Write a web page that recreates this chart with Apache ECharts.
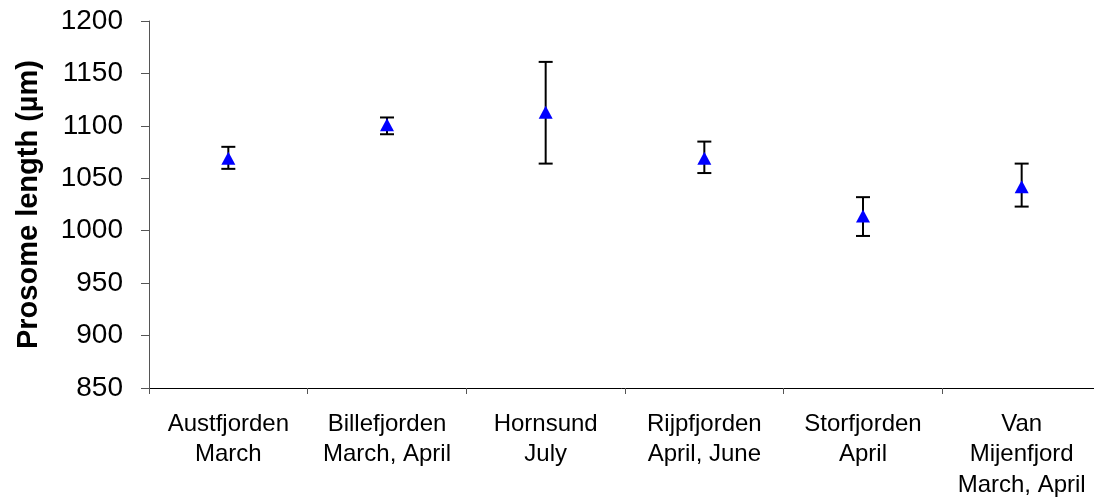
<!DOCTYPE html>
<html>
<head>
<meta charset="utf-8">
<script src="https://cdn.jsdelivr.net/npm/echarts@6/dist/echarts.min.js"></script>
<style>
html,body{margin:0;padding:0;background:#fff;}
#chart{width:1094px;height:497px;}
</style>
</head>
<body>
<div id="chart"></div>
<script>
const categories = ['Austfjorden\nMarch', 'Billefjorden\nMarch, April', 'Hornsund\nJuly', 'Rijpfjorden\nApril, June', 'Storfjorden\nApril', 'Van\nMijenfjord\nMarch, April'];
const means = [1069, 1101, 1113, 1069, 1014, 1042];
const upper = [1080, 1108, 1161, 1085, 1032, 1064];
const lower = [1059, 1092, 1064, 1055, 995, 1023];
const yTicks = {min: 850, max: 1200, interval: 50};
const yTitle = 'Prosome length (µm)';

const errData = categories.map((c, i) => [i, lower[i], upper[i]]);

const chart = echarts.init(document.getElementById('chart'), null, {renderer: 'canvas'});
chart.setOption({
  animation: false,
  backgroundColor: '#fff',
  grid: {left: 149, top: 21, height: 367, width: 952, containLabel: false, outerBoundsMode: 'none'},
  xAxis: {
    type: 'category',
    data: categories,
    boundaryGap: true,
    axisLine: {lineStyle: {color: '#000', width: 1}},
    axisTick: {show: true, length: 6, lineStyle: {color: '#555'}},
    axisLabel: {
      color: '#000', fontSize: 24, fontFamily: 'Liberation Sans, Arial, sans-serif',
      lineHeight: 30.5, margin: 21, interval: 0
    },
    splitLine: {show: false}
  },
  yAxis: {
    type: 'value',
    min: yTicks.min, max: yTicks.max, interval: yTicks.interval,
    name: yTitle,
    nameLocation: 'middle',
    nameGap: 106,
    nameRotate: 90,
    nameTextStyle: {color: '#000', fontSize: 29, fontWeight: 'bold', fontFamily: 'Liberation Sans, Arial, sans-serif'},
    axisLine: {show: true, lineStyle: {color: '#555', width: 1}},
    axisTick: {show: true, length: 8, lineStyle: {color: '#555'}},
    axisLabel: {
      color: '#000', fontSize: 28, fontFamily: 'Liberation Sans, Arial, sans-serif', margin: 26,
      formatter: function (v) { return String(v); }
    },
    splitLine: {show: false}
  },
  series: [
    {
      type: 'custom',
      data: errData,
      z: 1,
      renderItem: function (params, api) {
        const x = api.value(0);
        const lo = api.coord([x, api.value(1)]);
        const hi = api.coord([x, api.value(2)]);
        const hw = 7;
        const style = {stroke: '#000', lineWidth: 2};
        return {
          type: 'group',
          children: [
            {type: 'line', shape: {x1: lo[0], y1: lo[1], x2: hi[0], y2: hi[1]}, style: style},
            {type: 'line', shape: {x1: hi[0] - hw, y1: hi[1], x2: hi[0] + hw, y2: hi[1]}, style: style},
            {type: 'line', shape: {x1: lo[0] - hw, y1: lo[1], x2: lo[0] + hw, y2: lo[1]}, style: style}
          ]
        };
      }
    },
    {
      type: 'scatter',
      data: means,
      z: 2,
      symbol: 'triangle',
      symbolSize: [14, 13],
      itemStyle: {color: '#0000ff', opacity: 1}
    }
  ]
});
</script>
</body>
</html>
